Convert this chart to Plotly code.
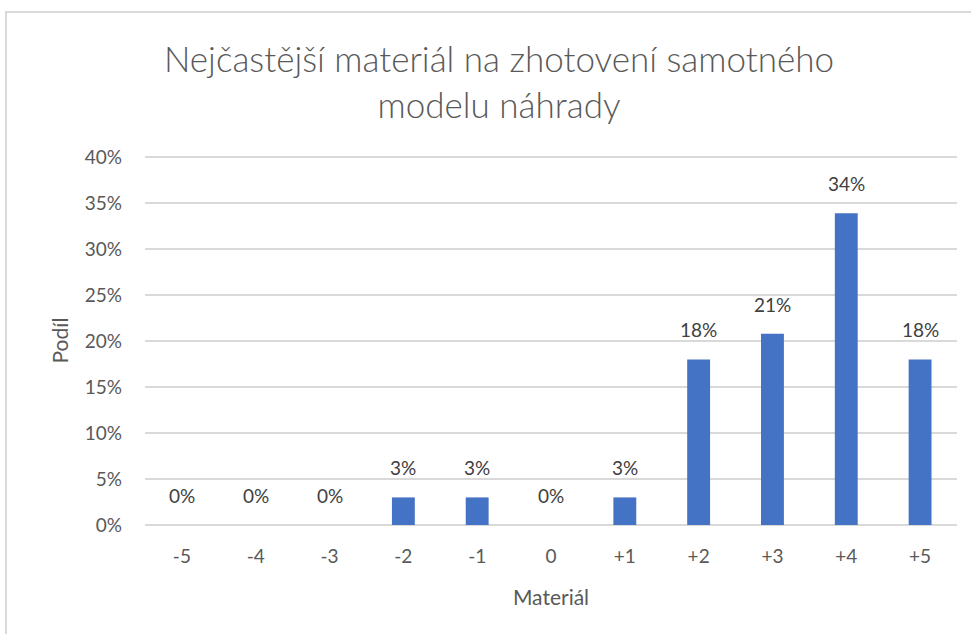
import plotly.graph_objects as go

categories = ["-5", "-4", "-3", "-2", "-1", "0", "+1", "+2", "+3", "+4", "+5"]
shares = [0.0, 0.0, 0.0, 0.03, 0.03, 0.0, 0.03, 0.18, 0.208, 0.339, 0.18]
y_ticks = [0, 0.05, 0.10, 0.15, 0.20, 0.25, 0.30, 0.35, 0.40]

TXT = "#595959"
FONT = "Lato"

L, R, T, B = 145, 14, 156, 109
W, H = 971, 634
pw = W - L - R
ph = H - T - B

fig = go.Figure(go.Bar(
    x=categories, y=shares,
    marker=dict(color="#4472C4", line=dict(width=0)),
    hoverinfo="skip",
))

annotations = [
    dict(x=i, y=v, xref="x", yref="y", text=f"{round(v*100):.0f}%",
         showarrow=False, yanchor="bottom", yshift=16,
         font=dict(family=FONT, size=19, color="#404040"))
    for i, v in enumerate(shares)
]

fig.update_layout(
    width=W, height=H,
    margin=dict(l=L, r=R, t=T, b=B, autoexpand=False),
    paper_bgcolor="white", plot_bgcolor="white",
    bargap=0.69,
    showlegend=False,
    annotations=annotations,
    title=dict(
        text="Nejčastější materiál na zhotovení samotného<br>modelu náhrady",
        x=499 / W, xref="container", xanchor="center",
        y=1 - 72 / H, yref="container", yanchor="top",
        font=dict(family=FONT, size=35, color=TXT, weight=300),
    ),
    font=dict(family=FONT, color=TXT, size=19),
    xaxis=dict(
        type="category", automargin=False,
        range=[-0.5, len(categories) - 0.5],
        showgrid=False, showline=False, zeroline=False,
        ticks="", ticklabelstandoff=18,
        tickfont=dict(family=FONT, size=19, color=TXT),
        title=dict(text="Materiál", font=dict(family=FONT, size=21, color=TXT), standoff=24),
    ),
    yaxis=dict(
        range=[0, 0.4012], tickvals=y_ticks, tickformat=".0%", automargin=False,
        showgrid=True, gridcolor="#d9d9d9", gridwidth=1.5,
        zeroline=True, zerolinecolor="#d9d9d9", zerolinewidth=1.5,
        showline=False, ticks="", ticklabelstandoff=22,
        tickfont=dict(family=FONT, size=19, color=TXT),
        title=dict(text="Podíl", font=dict(family=FONT, size=21, color=TXT), standoff=10),
    ),
    shapes=[
        dict(type="rect", xref="paper", yref="paper",
             x0=(6 - L) / pw, x1=(W + 20 - L) / pw,
             y0=-0.5, y1=(H - B - 12) / ph,
             line=dict(color="#d9d9d9", width=2), fillcolor="rgba(0,0,0,0)", layer="below"),
    ],
)

fig.write_html("out.html", config={"displayModeBar": False},
               post_script="document.body.style.margin='0';")
